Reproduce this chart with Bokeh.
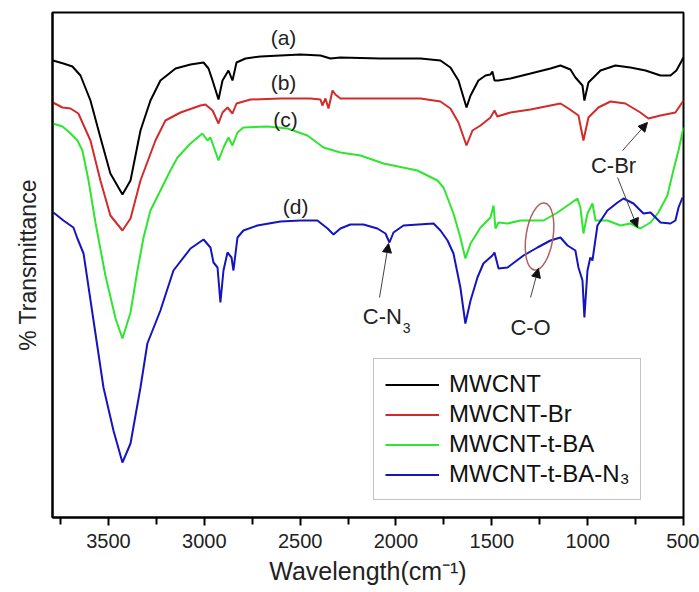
from bokeh.plotting import figure
from bokeh.models import Range1d, FixedTicker, Arrow, NormalHead, Legend, LegendItem
from bokeh.core.properties import value
from bokeh.embed import file_html
from bokeh.resources import INLINE

FONT = "Liberation Sans"

# ---- data (wavenumber cm-1, transmittance a.u.) ----
wn_a = [3790, 3735, 3688, 3646, 3594, 3542, 3490, 3427, 3385, 3333, 3281, 3229, 3150, 3072, 3004, 2978, 2957,
        2926, 2905, 2874, 2853, 2832, 2785, 2707, 2603, 2498, 2394, 2342, 2290, 2081, 1872, 1768, 1716, 1674,
        1632, 1611, 1570, 1533, 1507, 1497, 1486, 1465, 1403, 1298, 1194, 1142, 1090, 1064, 1027, 1017, 996,
        933, 855, 777, 698, 620, 568, 537, 500]
t_a = [91.4, 90.8, 90.2, 88.4, 83.4, 76.0, 68.8, 64.6, 67.4, 77.4, 83.4, 87.4, 89.8, 90.6, 91.0, 89.8, 87.4,
       83.6, 87.4, 89.4, 87.4, 91.0, 91.8, 92.2, 92.4, 92.6, 92.4, 91.8, 92.0, 91.8, 91.8, 91.4, 90.0, 87.4,
       82.0, 84.4, 87.4, 88.4, 88.6, 89.2, 87.4, 87.4, 87.8, 88.8, 89.8, 90.4, 89.6, 88.0, 86.4, 83.4, 87.0,
       89.4, 90.4, 90.0, 89.4, 88.4, 88.4, 89.4, 92.0]

wn_b = [3790, 3740, 3698, 3657, 3594, 3542, 3490, 3427, 3385, 3333, 3255, 3203, 3124, 3020, 2994, 2957, 2926,
        2905, 2879, 2853, 2832, 2759, 2603, 2446, 2394, 2384, 2368, 2352, 2331, 2316, 2290, 2081, 1872, 1768,
        1716, 1674, 1632, 1601, 1559, 1507, 1486, 1471, 1455, 1403, 1298, 1194, 1142, 1100, 1048, 1022, 996,
        944, 881, 803, 725, 683, 620, 542, 500]
t_b = [83.0, 82.0, 81.8, 80.8, 75.4, 67.4, 60.4, 57.4, 59.8, 67.4, 75.4, 79.4, 81.0, 82.4, 82.6, 81.4, 78.8,
       81.0, 82.0, 80.8, 82.8, 83.6, 83.8, 83.8, 83.6, 82.4, 83.8, 81.8, 85.4, 84.6, 83.8, 83.8, 83.8, 83.2,
       81.8, 79.0, 74.4, 77.4, 78.4, 80.0, 81.4, 80.2, 80.4, 81.0, 81.6, 82.4, 82.8, 81.8, 80.4, 75.4, 80.0,
       82.0, 83.2, 82.8, 81.0, 79.8, 80.4, 81.0, 83.4]

wn_c = [3790, 3740, 3698, 3662, 3636, 3604, 3568, 3516, 3463, 3427, 3385, 3349, 3317, 3281, 3229, 3177, 3140,
        3072, 3010, 2984, 2968, 2926, 2900, 2874, 2853, 2827, 2796, 2670, 2566, 2462, 2378, 2290, 2185, 2065,
        1888, 1784, 1752, 1700, 1664, 1638, 1611, 1559, 1507, 1491, 1481, 1465, 1418, 1351, 1230, 1157, 1090,
        1053, 1038, 1022, 1001, 975, 959, 897, 829, 777, 725, 672, 631, 584, 553, 526, 500]
t_c = [78.8, 78.2, 76.8, 75.4, 73.4, 67.4, 59.0, 48.4, 39.8, 35.8, 41.0, 49.4, 56.0, 61.4, 65.4, 69.4, 72.0,
       74.8, 76.8, 75.4, 76.0, 71.4, 74.0, 76.0, 74.4, 77.0, 78.0, 78.2, 77.8, 76.4, 74.0, 73.0, 72.4, 70.8,
       69.4, 67.4, 66.0, 60.8, 56.0, 51.8, 54.8, 58.0, 60.0, 62.4, 57.8, 59.0, 58.8, 59.4, 59.4, 61.0, 62.8,
       63.8, 62.0, 56.8, 60.8, 62.8, 59.4, 59.4, 58.4, 58.8, 57.8, 59.0, 61.0, 64.4, 69.4, 73.4, 78.0]

wn_d = [3787, 3735, 3683, 3662, 3630, 3578, 3526, 3474, 3427, 3385, 3333, 3297, 3229, 3161, 3072, 3004, 2968,
        2952, 2931, 2916, 2900, 2879, 2858, 2848, 2827, 2796, 2723, 2603, 2498, 2410, 2357, 2326, 2290, 2238,
        2170, 2097, 2055, 2034, 2013, 1961, 1804, 1768, 1731, 1700, 1664, 1638, 1611, 1575, 1544, 1497, 1486,
        1465, 1418, 1335, 1262, 1194, 1142, 1105, 1064, 1048, 1027, 1017, 1001, 986, 975, 949, 897, 844, 813,
        761, 709, 672, 620, 568, 542, 526, 505]
t_d = [61.0, 59.4, 58.0, 55.8, 52.8, 39.4, 26.0, 17.4, 11.0, 14.8, 26.0, 34.8, 41.4, 49.4, 53.8, 55.6, 54.0,
       51.0, 50.0, 43.0, 49.4, 53.0, 52.0, 49.4, 56.0, 57.4, 58.4, 59.2, 59.4, 59.4, 57.8, 56.6, 57.8, 58.6,
       58.6, 57.8, 56.8, 55.0, 57.0, 58.4, 58.8, 57.4, 55.4, 52.8, 46.0, 38.8, 43.4, 48.0, 50.8, 52.4, 53.0,
       49.8, 50.0, 52.4, 54.0, 55.4, 56.0, 54.4, 53.4, 50.0, 47.4, 40.0, 49.4, 52.0, 51.4, 58.4, 61.4, 63.0, 63.8,
       62.8, 60.8, 61.0, 59.0, 58.8, 59.4, 62.0, 64.0]

series_names = ["MWCNT", "MWCNT-Br", "MWCNT-t-BA", "MWCNT-t-BA-N\u2083"]
series_colors = ["#000000", "#d42a2a", "#2ee62e", "#1414c0"]
x_ticks = [3500, 3000, 2500, 2000, 1500, 1000, 500]
x_minor_ticks = [3750, 3250, 2750, 2250, 1750, 1250, 750]

curve_tags = ["(a)", "(b)", "(c)", "(d)"]
tag_wn = [2587, 2587, 2577, 2524]
tag_t = [96.0, 87.0, 79.6, 62.2]

p = figure(width=699, height=592, output_backend="svg", toolbar_location=None,
           x_range=Range1d(3792, 500), y_range=Range1d(0, 101),
           min_border_left=52, min_border_right=16, min_border_top=12, min_border_bottom=75)
p.grid.visible = False
p.outline_line_color = "black"
p.outline_line_width = 2
p.background_fill_color = "white"
p.border_fill_color = "white"

renderers = []
for wn, t, c in zip([wn_a, wn_b, wn_c, wn_d], [t_a, t_b, t_c, t_d], series_colors):
    renderers.append(p.line(wn, t, line_color=c, line_width=2))

# x axis
xa = p.xaxis[0]
xa.ticker = FixedTicker(ticks=x_ticks, minor_ticks=x_minor_ticks)
xa.axis_line_width = 2
xa.major_tick_in = 0
xa.major_tick_out = 8
xa.minor_tick_in = 0
xa.minor_tick_out = 7
xa.major_tick_line_width = 2
xa.minor_tick_line_width = 2
xa.major_label_text_font = FONT
xa.major_label_text_font_size = "20px"
xa.major_label_text_color = "#222222"
xa.major_label_standoff = 8
xa.axis_label = "Wavelength(cm\u207b\u00b9)"
xa.axis_label_text_font = FONT
xa.axis_label_text_font_size = "25px"
xa.axis_label_text_font_style = "normal"
xa.axis_label_text_color = "#222222"
xa.axis_label_standoff = 6

# y axis
ya = p.yaxis[0]
ya.ticker = FixedTicker(ticks=[])
ya.axis_line_width = 2
ya.major_tick_out = 0
ya.minor_tick_out = 0
ya.major_tick_in = 0
ya.minor_tick_in = 0
ya.axis_label = "% Transmittance"
ya.axis_label_text_font = FONT
ya.axis_label_text_font_size = "23px"
ya.axis_label_text_font_style = "normal"
ya.axis_label_text_color = "#222222"
ya.axis_label_standoff = 12

# curve tags
p.text(tag_wn, tag_t, text=curve_tags, text_font=value(FONT), text_font_size="21px",
       text_align="center", text_baseline="middle", text_color="#222222")

# band annotations
p.text([865], [70.4], text=["C-Br"], text_font=value(FONT), text_font_size="22px",
       text_align="center", text_baseline="middle", text_color="#222222")
p.text([2071], [40.2], text=["C-N"], text_font=value(FONT), text_font_size="22px",
       text_align="center", text_baseline="middle", text_color="#222222")
p.text([1944], [38.0], text=["3"], text_font=value(FONT), text_font_size="14px",
       text_align="center", text_baseline="middle", text_color="#222222")
p.text([1298], [38.0], text=["C-O"], text_font=value(FONT), text_font_size="22px",
       text_align="center", text_baseline="middle", text_color="#222222")

arrows = [((2086, 44.0), (2039, 54.8)), ((1298, 44.0), (1257, 49.8)),
          ((818, 73.4), (688, 79.0)), ((844, 68.0), (740, 58.0))]
for (x0, y0), (x1, y1) in arrows:
    p.add_layout(Arrow(end=NormalHead(size=9, fill_color="#111111", line_color="#111111"),
                       x_start=x0, y_start=y0, x_end=x1, y_end=y1,
                       line_color="#444444", line_width=1))

p.ellipse(x=[1251], y=[56.2], width=[27], height=[68], angle=[-0.15],
          width_units="screen", height_units="screen",
          fill_color=None, line_color="#b06060", line_width=1.5)

legend = Legend(items=[LegendItem(label=n, renderers=[r]) for n, r in zip(series_names, renderers)],
                location=(321, 17))
legend.label_text_font = FONT
legend.label_text_font_size = "24px"
legend.label_text_color = "#111111"
legend.glyph_width = 54
legend.glyph_height = 27
legend.label_height = 27
legend.spacing = 2
legend.padding = 11
legend.margin = 0
legend.label_standoff = 10
legend.border_line_color = "#888888"
legend.border_line_width = 1.5
legend.background_fill_alpha = 1
p.add_layout(legend)

open("out.html", "w").write(file_html(p, INLINE))
